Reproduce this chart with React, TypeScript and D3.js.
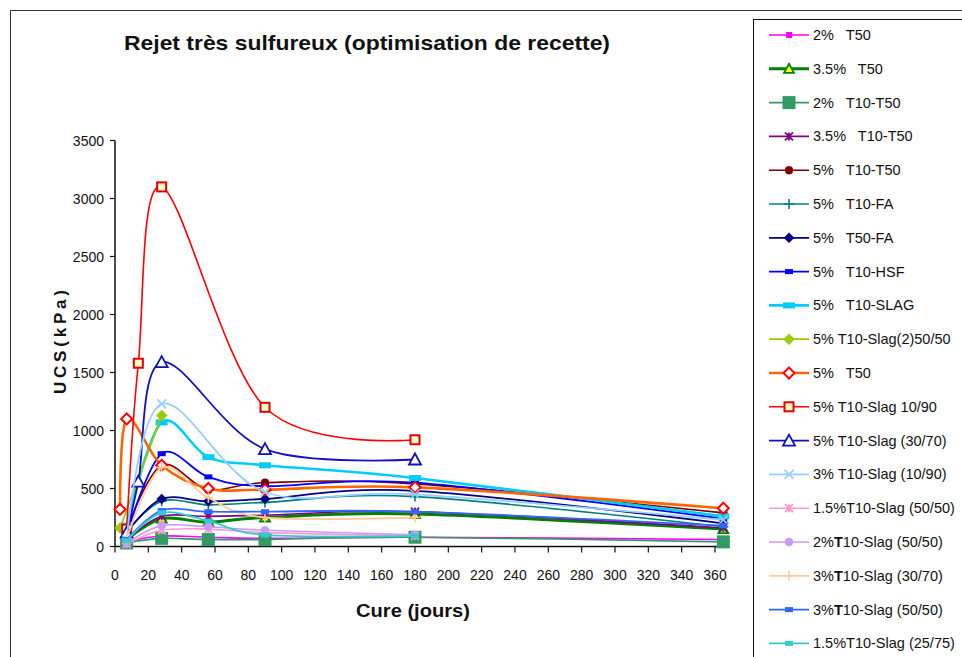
import React from "react";
import * as d3 from "d3";

const days = [3, 7, 14, 28, 56, 90, 180, 365];
const xTicks = d3.range(0, 361, 20);
const yTicks = d3.range(0, 3501, 500);

const seriesNames = [
  "2%   T50",
  "3.5%   T50",
  "2%   T10-T50",
  "3.5%   T10-T50",
  "5%   T10-T50",
  "5%   T10-FA",
  "5%   T50-FA",
  "5%   T10-HSF",
  "5%   T10-SLAG",
  "5% T10-Slag(2)50/50",
  "5%   T50",
  "5% T10-Slag 10/90",
  "5% T10-Slag (30/70)",
  "3% T10-Slag (10/90)",
  "1.5%T10-Slag (50/50)",
  "2%T10-Slag (50/50)",
  "3%T10-Slag (30/70)",
  "3%T10-Slag (50/50)",
  "1.5%T10-Slag (25/75)",
];

type V = number | null;
const s2T50: V[] = [null, 40, null, 90, 80, 70, 80, 60];
const s35T50: V[] = [null, 60, null, 240, 210, 250, 280, 150];
const s2T10T50: V[] = [null, 30, null, 70, 60, 60, 80, 40];
const s35T10T50: V[] = [null, 60, null, 260, 260, 270, 300, 160];
const s5T10T50: V[] = [null, 150, null, 700, 490, 550, 540, 290];
const s5T10FA: V[] = [null, 130, null, 390, 360, 380, 430, 170];
const s5T50FA: V[] = [null, 120, null, 410, 390, 410, 480, 200];
const s5T10HSF: V[] = [null, 100, null, 800, 600, 520, 550, 240];
const s5T10SLAG: V[] = [null, 180, null, 1070, 770, 700, 590, 260];
const s5Slag2: V[] = [160, null, null, 1130, null, null, null, null];
const s5T50: V[] = [320, 1100, null, 700, 500, 490, 510, 330];
const s5Slag1090: V[] = [null, 150, 1580, 3100, null, 1200, 920, null];
const s5Slag3070: V[] = [null, 120, 560, 1590, null, 840, 750, null];
const s3Slag1090: V[] = [null, 60, null, 1230, null, 470, 450, 230];
const s15Slag5050: V[] = [null, 20, null, 140, 150, 120, 90, null];
const s2Slag5050: V[] = [null, 30, null, 180, 170, 140, 100, null];
const s3Slag3070: V[] = [null, 70, null, 680, 420, 250, 250, null];
const s3Slag5050: V[] = [null, 60, null, 310, 300, 300, 300, 180];
const s15Slag2575: V[] = [null, 50, null, 290, 220, 100, 90, null];

const seriesValues = [
  s2T50, s35T50, s2T10T50, s35T10T50, s5T10T50, s5T10FA, s5T50FA, s5T10HSF,
  s5T10SLAG, s5Slag2, s5T50, s5Slag1090, s5Slag3070, s3Slag1090, s15Slag5050,
  s2Slag5050, s3Slag3070, s3Slag5050, s15Slag2575,
];

type Style = { color: string; width: number; marker: string; fill?: string; mstroke?: string; size: number };
const styles: Style[] = [
  { color: "#FF00FF", width: 1.6, marker: "square", size: 6 },
  { color: "#008000", width: 3, marker: "triangle", fill: "#FFFF00", size: 8 },
  { color: "#339966", width: 1.6, marker: "square", size: 13 },
  { color: "#800080", width: 1.6, marker: "star", size: 8 },
  { color: "#800000", width: 1.6, marker: "circle", size: 8 },
  { color: "#008080", width: 1.6, marker: "plus", size: 10 },
  { color: "#000080", width: 1.8, marker: "diamond", size: 10 },
  { color: "#0000FF", width: 1.8, marker: "dash", size: 8 },
  { color: "#00CCFF", width: 2.6, marker: "wide", size: 12 },
  { color: "#99CC00", width: 1.8, marker: "diamond", size: 11 },
  { color: "#FF6600", width: 2.6, marker: "diamond", fill: "#FFFFFF", mstroke: "#FF0000", size: 11 },
  { color: "#FF0000", width: 1.6, marker: "square", fill: "#FFFFCC", mstroke: "#E00000", size: 9 },
  { color: "#1010C0", width: 1.8, marker: "triangle", fill: "#FFFFFF", size: 10 },
  { color: "#99CCFF", width: 1.8, marker: "x", size: 9 },
  { color: "#FF99CC", width: 1.6, marker: "star", size: 8 },
  { color: "#CC99FF", width: 1.6, marker: "circle", size: 8 },
  { color: "#FFCC99", width: 1.8, marker: "plus", size: 10 },
  { color: "#3366FF", width: 1.8, marker: "dash", size: 8 },
  { color: "#33CCCC", width: 1.8, marker: "dash", size: 8 },
];

const boldT = [false, false, false, false, false, false, false, false, false, false, false, false, false, false, false, true, true, true, false];

function Marker({ s, x, y }: { s: Style; x: number; y: number }) {
  const h = s.size / 2;
  const c = s.color;
  const st = s.mstroke || c;
  switch (s.marker) {
    case "square":
      return <rect x={x - h} y={y - h} width={s.size} height={s.size} fill={s.fill || c} stroke={st} strokeWidth={s.fill ? 2 : 0} />;
    case "triangle":
      return <path d={`M${x},${y - h - 1}L${x + h + 1},${y + h}L${x - h - 1},${y + h}Z`} fill={s.fill || c} stroke={st} strokeWidth={1.8} />;
    case "circle":
      return <circle cx={x} cy={y} r={h} fill={s.fill || c} stroke={st} strokeWidth={0.5} />;
    case "diamond":
      return <path d={`M${x},${y - h}L${x + h},${y}L${x},${y + h}L${x - h},${y}Z`} fill={s.fill || c} stroke={st} strokeWidth={s.fill ? 2 : 0.5} />;
    case "plus":
      return <path d={`M${x - h},${y}H${x + h}M${x},${y - h}V${y + h}`} stroke={c} strokeWidth={1.6} />;
    case "x":
      return <path d={`M${x - h},${y - h}L${x + h},${y + h}M${x - h},${y + h}L${x + h},${y - h}`} stroke={c} strokeWidth={1.6} />;
    case "star":
      return <path d={`M${x - h},${y - h}L${x + h},${y + h}M${x - h},${y + h}L${x + h},${y - h}M${x},${y - h}V${y + h}`} stroke={c} strokeWidth={1.8} />;
    case "dash":
      return <rect x={x - h} y={y - 2.5} width={s.size} height={5} fill={c} />;
    case "wide":
      return <rect x={x - h} y={y - 3} width={s.size} height={6} fill={c} />;
    default:
      return null;
  }
}

export default function App() {
  const W = 962, H = 657;
  const x = d3.scaleLinear().domain([0, 366]).range([115, 725]);
  const y = d3.scaleLinear().domain([0, 3500]).range([546.5, 140.5]);
  const line = d3
    .line<[number, number]>()
    .x((d) => x(d[0]))
    .y((d) => y(d[1]))
    .curve(d3.curveCatmullRom.alpha(0));

  const font = "'Liberation Sans', Arial, sans-serif";
  const legX = 753, legY0 = 35, legStep = 33.8;

  return (
    <svg width={W} height={H} style={{ position: "absolute", left: 0, top: 0, background: "#fff" }} fontFamily={font}>
      <rect x={0} y={0} width={W} height={H} fill="#fff" />
      {/* outer frame */}
      <path d={`M10.5,${H}V10.5H${W}`} fill="none" stroke="#333" strokeWidth={1} />

      {/* title */}
      <text x={367} y={50} textAnchor="middle" fontSize={21} fontWeight="bold" textLength={486} lengthAdjust="spacingAndGlyphs" fill="#111">
        Rejet très sulfureux (optimisation de recette)
      </text>

      {/* y axis */}
      <line x1={115} x2={115} y1={y(3500)} y2={y(0)} stroke="#111" strokeWidth={1.5} />
      {yTicks.map((t) => (
        <g key={"y" + t}>
          <line x1={110} x2={115} y1={y(t)} y2={y(t)} stroke="#111" strokeWidth={1.2} />
          <text x={104} y={y(t) + 5} textAnchor="end" fontSize={14} fill="#111">
            {t}
          </text>
        </g>
      ))}
      {/* x axis */}
      <line x1={115} x2={725} y1={y(0)} y2={y(0)} stroke="#111" strokeWidth={1.5} />
      {xTicks.map((t) => (
        <g key={"x" + t}>
          <line x1={x(t)} x2={x(t)} y1={y(0)} y2={y(0) + 6} stroke="#111" strokeWidth={1.2} />
          <text x={x(t)} y={580} textAnchor="middle" fontSize={14} fill="#111">
            {t}
          </text>
        </g>
      ))}

      {/* axis titles */}
      <text x={413} y={617} textAnchor="middle" fontSize={18} fontWeight="bold" textLength={114} lengthAdjust="spacingAndGlyphs" fill="#111">
        Cure (jours)
      </text>
      <text transform={`translate(66,342) rotate(-90)`} textAnchor="middle" fontSize={17} fontWeight="bold" textLength={104} lengthAdjust="spacing" fill="#111">
        UCS(kPa)
      </text>

      {/* series */}
      {seriesValues.map((vals, i) => {
        const pts = days
          .map((d, k) => [d, vals[k]] as [number, V])
          .filter((p) => p[1] !== null) as [number, number][];
        const s = styles[i];
        return (
          <g key={"s" + i}>
            <path d={line(pts) || ""} fill="none" stroke={s.color} strokeWidth={s.width} />
            {pts.map((p, k) => (
              <Marker key={k} s={s} x={x(p[0])} y={y(p[1])} />
            ))}
          </g>
        );
      })}

      {/* legend */}
      <rect x={legX + 0.5} y={19.5} width={260} height={700} fill="#fff" stroke="#111" strokeWidth={1} />
      {seriesNames.map((name, i) => {
        const ly = legY0 + i * legStep;
        const s = styles[i];
        const m = name.indexOf("%T");
        return (
          <g key={"l" + i}>
            <line x1={769} x2={809} y1={ly} y2={ly} stroke={s.color} strokeWidth={s.width} />
            <Marker s={s} x={789} y={ly} />
            <text x={813} y={ly + 5} fontSize={14.5} fill="#111" style={{ whiteSpace: "pre" }}>
              {boldT[i] && m >= 0 ? (
                <>
                  <tspan>{name.slice(0, m + 1)}</tspan>
                  <tspan fontWeight="bold">T</tspan>
                  <tspan>{name.slice(m + 2)}</tspan>
                </>
              ) : (
                name
              )}
            </text>
          </g>
        );
      })}
    </svg>
  );
}
